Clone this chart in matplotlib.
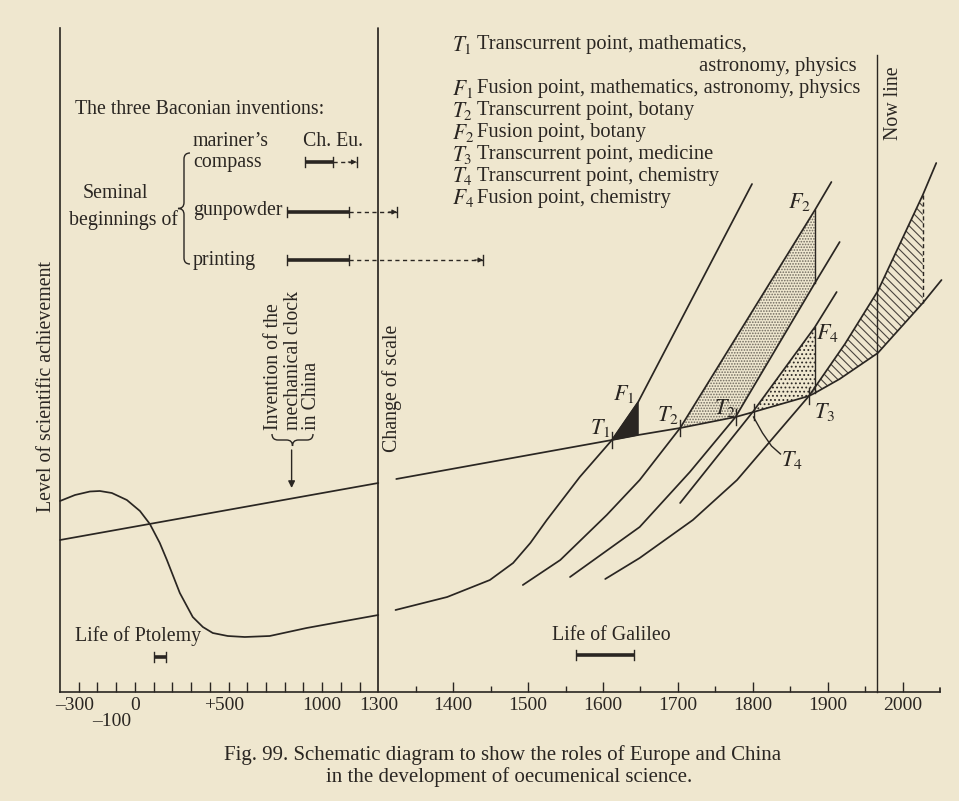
import numpy as np
import matplotlib
matplotlib.use("Agg")
import matplotlib.pyplot as plt
from matplotlib.path import Path
from matplotlib.patches import PathPatch, Polygon
from matplotlib.transforms import Affine2D

W, H = 959, 801
BG = "#efe7cf"
INK = "#2a2622"
FS = 14.3

plt.rcParams["font.family"] = ["Liberation Serif", "DejaVu Serif"]
plt.rcParams["mathtext.fontset"] = "stix"
plt.rcParams["hatch.linewidth"] = 0.8

# ---- data: year (x) and level of scientific achievement (y, schematic units) ----
china_early_years = [-400, 1300]
china_early_level = [152, 209]
china_years = [1324, 1612, 1647, 1703, 1777, 1801, 1875, 1883, 1916, 1967, 2027, 2052]
china_level = [213, 252, 257, 264, 275, 280, 296, 299, 313, 339, 389, 412]

europe_early_years = [-400, -320, -240, -187, -123, -43, 27, 80, 133, 171, 240, 309,
                      363, 416, 496, 587, 720, 917, 1093, 1300]
europe_early_level = [191, 197, 200.5, 201, 199, 192, 181, 168, 149, 132, 99, 75,
                      65, 59, 56, 55, 56, 64, 70, 77]

# Europe after the change of scale, one curve per science
maths_years = [1323, 1392, 1449, 1480, 1503, 1525, 1569, 1612, 1647, 1799]
maths_level = [82, 95, 112, 129, 149, 172, 215, 252, 290, 508]
botany_years = [1493, 1543, 1605, 1649, 1703, 1883, 1905]
botany_level = [107, 132, 177, 212, 264, 482, 510]
botany2_years = [1556, 1649, 1716, 1777, 1883, 1916]
botany2_level = [115, 165, 220, 275, 409, 450]
chem_years = [1703, 1801, 1883, 1912]
chem_level = [189, 281, 365, 400]
med_years = [1603, 1649, 1720, 1779, 1875, 1923, 1967, 2027, 2045]
med_level = [113, 134, 172, 212, 296, 348, 401, 497, 529]

# transcurrent / fusion points
trans_names = ["$T_1$", "$T_2$", "$T_2$", "$T_4$", "$T_3$"]
trans_years = [1612, 1703, 1777, 1801, 1875]
trans_level = [252, 264, 275, 280, 296]
fusion_f1, fusion_f2, fusion_f4, future_end = 1647, 1883, 1883, 2027
now_year = 1966

# Baconian inventions: Chinese start, European start, spread in Europe
inventions = ["compass", "gunpowder", "printing"]
inv_china = [907, 811, 811]
inv_europe = [1056, 1141, 1141]
inv_spread = [1184, 1325, 1440]
ptolemy = [100, 165]
galileo = [1564, 1642]

major_left = list(range(-300, 1300, 100))
major_right = list(range(1400, 2001, 100))
minor_right = list(range(1350, 2000, 100))
tick_years = [-300, -100, 0, 500, 1000, 1300, 1400, 1500, 1600, 1700, 1800, 1900, 2000]
tick_text = ["\u2013300", "\u2013100", "0", "+500", "1000", "1300", "1400", "1500",
             "1600", "1700", "1800", "1900", "2000"]

legend_sym = ["$T_1$", None, "$F_1$", "$T_2$", "$F_2$", "$T_3$", "$T_4$", "$F_4$"]
legend_txt = ["Transcurrent point, mathematics,", "astronomy, physics",
              "Fusion point, mathematics, astronomy, physics",
              "Transcurrent point, botany", "Fusion point, botany",
              "Transcurrent point, medicine", "Transcurrent point, chemistry",
              "Fusion point, chemistry"]


def seg(xs, ys, a, b):
    return [(x, y) for x, y in zip(xs, ys) if a <= x <= b]


fig = plt.figure(figsize=(W / 100, H / 100), dpi=100, facecolor=BG)
PX = Affine2D().scale(1.0 / W, -1.0 / H).translate(0, 1) + fig.transFigure
ax = fig.add_axes([60 / W, (H - 692) / H, 880 / W, 664 / H])
ax.set_facecolor(BG)
fwd = lambda x: np.where(np.asarray(x) < 1300, 1300 + (np.asarray(x) - 1300) / 4.0, x)
inv = lambda u: np.where(np.asarray(u) < 1300, 1300 + (np.asarray(u) - 1300) * 4.0, u)
ax.set_xscale("function", functions=(fwd, inv))
ax.set_xlim(-400, 2050)
ax.set_ylim(0, 664)
for s in ["top", "right"]:
    ax.spines[s].set_visible(False)
for s in ["left", "bottom"]:
    ax.spines[s].set_color(INK)
    ax.spines[s].set_linewidth(1.2)
ax.set_yticks([])
ax.set_xticks(major_left + major_right)
ax.set_xticks(minor_right, minor=True)
ax.tick_params(axis="x", which="major", direction="in", length=7.2, width=1, color=INK,
               labelbottom=False)
ax.tick_params(axis="x", which="minor", direction="in", length=4.3, width=1, color=INK,
               labelbottom=False)
for yr, lab in zip(tick_years, tick_text):
    dx = -4 if lab[0] in "\u2013+" else 0
    dy = -30 if yr == -100 else -13
    ax.annotate(lab, (yr, 0), xytext=(dx, dy), textcoords="offset pixels", ha="center",
                va="center", fontsize=14, color=INK, annotation_clip=False)

kw = dict(color=INK, lw=1.25, solid_joinstyle="round", solid_capstyle="round", clip_on=False)
ax.plot([2050, 2050], [0, 4], **kw)
ax.plot([1300, 1300], [0, 664], **kw)
ax.plot([now_year, now_year], [0, 637], color=INK, lw=1.0, clip_on=False)

# fills
f1 = seg(maths_years, maths_level, trans_years[0], fusion_f1) + \
    seg(china_years, china_level, trans_years[0], fusion_f1)[::-1]
ax.add_patch(Polygon(f1, closed=True, facecolor=INK, edgecolor=INK, lw=0.8))
f2 = seg(botany_years, botany_level, trans_years[1], fusion_f2) + \
    seg(botany2_years, botany2_level, trans_years[2], fusion_f2)[::-1] + \
    seg(china_years, china_level, trans_years[1], trans_years[2])[::-1]
ax.add_patch(Polygon(f2, closed=True, facecolor="none", edgecolor="#6f695e", hatch="......", lw=0))
f4 = seg(chem_years, chem_level, trans_years[3], fusion_f4) + \
    seg(china_years, china_level, trans_years[3], fusion_f4)[::-1]
ax.add_patch(Polygon(f4, closed=True, facecolor="none", edgecolor="#2f2a26", hatch="....", lw=0))
fh = seg(med_years, med_level, trans_years[4], future_end) + \
    seg(china_years, china_level, trans_years[4], future_end)[::-1]
ax.add_patch(Polygon(fh, closed=True, facecolor="none", edgecolor="#4a453e",
                     hatch="\\\\\\\\", lw=0))

# curves
ax.plot(china_early_years, china_early_level, **kw)
ax.plot(china_years, china_level, **kw)
ax.plot(europe_early_years, europe_early_level, **kw)
for xs, ys in [(maths_years, maths_level), (botany_years, botany_level),
               (botany2_years, botany2_level), (chem_years, chem_level), (med_years, med_level)]:
    ax.plot(xs, ys, **kw)

# fusion verticals
b_f2 = dict(zip(botany_years, botany_level))[fusion_f2]
b2_f2 = dict(zip(botany2_years, botany2_level))[fusion_f2]
c_f4 = dict(zip(chem_years, chem_level))[fusion_f4]
ch = dict(zip(china_years, china_level))
m_end = dict(zip(med_years, med_level))[future_end]
ax.plot([fusion_f2, fusion_f2], [b_f2, b2_f2], color=INK, lw=1.0)
ax.plot([fusion_f4, fusion_f4], [c_f4, ch[fusion_f4]], color=INK, lw=1.0)
ax.plot([future_end, future_end], [m_end, ch[future_end]], color=INK, lw=1.0, ls=(0, (3, 2)))

# crossing ticks and labels
for yr, lv in zip(trans_years, trans_level):
    ax.plot([yr, yr], [lv - 8, lv + 8], color=INK, lw=1.0)
lab_pos = [(1596, 264), (1687, 277), (1763, 284), (1852, 232), (1896, 280)]
for name, (x, y) in zip(trans_names, lab_pos):
    ax.text(x, y, name, fontsize=16, color=INK, ha="center", va="center")
ax.plot([1801, 1813, 1825, 1837], [275, 259, 246, 238], color=INK, lw=1.0)
ax.text(1628, 298, "$F_1$", fontsize=16, color=INK, ha="center", va="center")
ax.text(1863, 490, "$F_2$", fontsize=16, color=INK, ha="center", va="center")
ax.text(1900, 359, "$F_4$", fontsize=16, color=INK, ha="center", va="center")

# Baconian inventions
for row, (c0, e0, e1) in zip([530, 480, 432], zip(inv_china, inv_europe, inv_spread)):
    ax.plot([c0, e0], [row, row], color=INK, lw=2.6, solid_capstyle="butt")
    for x in (c0, e0):
        ax.plot([x, x], [row - 5, row + 5], color=INK, lw=1.0)
    ax.plot([e0, e1], [row, row], color=INK, lw=1.0, ls=(0, (3, 2.5)))
    ax.annotate("", xy=(e1, row), xytext=(-6, 0), textcoords="offset points",
                arrowprops=dict(arrowstyle="-|>", color=INK, lw=0.8, mutation_scale=7,
                                shrinkA=0, shrinkB=0))
    ax.plot([e1, e1], [row - 5, row + 5], color=INK, lw=1.0)

for span, row in [(ptolemy, 35), (galileo, 37)]:
    ax.plot(span, [row, row], color=INK, lw=2.6, solid_capstyle="butt")
    for x in span:
        ax.plot([x, x], [row - 5, row + 5], color=INK, lw=1.0)

# clock arrow
ax.annotate("", xy=(837, 204), xytext=(837, 242),
            arrowprops=dict(arrowstyle="-|>", color=INK, lw=1.0, mutation_scale=10,
                            shrinkA=0, shrinkB=0))


def brace(x0, x1, yt, yb, horizontal=False):
    xm, ym, r = (x0 + x1) / 2, (yt + yb) / 2, min(6, (yb - yt) / 6)
    v = [(x1, yt), (xm, yt), (xm, yt + r), (xm, ym - r), (xm, ym), (x0, ym),
         (xm, ym), (xm, ym + r), (xm, yb - r), (xm, yb), (x1, yb)]
    if horizontal:
        v = [(y, x) for x, y in v]
    c = [Path.MOVETO, Path.CURVE3, Path.CURVE3, Path.LINETO, Path.CURVE3, Path.CURVE3,
         Path.CURVE3, Path.CURVE3, Path.LINETO, Path.CURVE3, Path.CURVE3]
    fig.add_artist(PathPatch(Path(v, c), fill=False, edgecolor=INK, lw=1.0, transform=PX))


brace(178, 190, 153, 264)
brace(446, 434, 272, 313, horizontal=True)


def ptext(x, y, s, **k):
    k.setdefault("fontsize", FS)
    k.setdefault("va", "center")
    fig.text(x / W, 1 - y / H, s, color=INK, **k)


ptext(75, 110, "The three Baconian inventions:")
ptext(193, 142, "mariner\u2019s")
ptext(193, 162, "compass")
ptext(303, 142, "Ch. Eu.")
ptext(115, 193, "Seminal", ha="center")
ptext(123, 220, "beginnings of", ha="center")
ptext(193, 210, "gunpowder")
ptext(193, 260, "printing")
ptext(75, 636, "Life of Ptolemy")
ptext(552, 635, "Life of Galileo")
ptext(47, 512, "Level of scientific achievement", rotation=90, ha="center", va="bottom")
ptext(392, 452, "Change of scale", rotation=90, ha="center", va="bottom")
ptext(893, 140, "Now line", rotation=90, ha="center", va="bottom")
for x, s in zip([273, 293, 312], ["Invention of the", "mechanical clock", "in China"]):
    ptext(x, 430, s, rotation=90, ha="center", va="bottom")

for i, (sym, txt) in enumerate(zip(legend_sym, legend_txt)):
    y = 45 + 21.9 * i
    if sym is None:
        ptext(857, y, txt, ha="right", fontsize=14.9)
    else:
        ptext(452, y, sym, fontsize=15.5)
        ptext(477, y, txt, fontsize=14.8)

ptext(503, 755, "Fig. 99. Schematic diagram to show the roles of Europe and China",
      ha="center", fontsize=15)
ptext(509, 777, "in the development of oecumenical science.", ha="center", fontsize=15)

fig.savefig("out.png", dpi=100, facecolor=BG)
